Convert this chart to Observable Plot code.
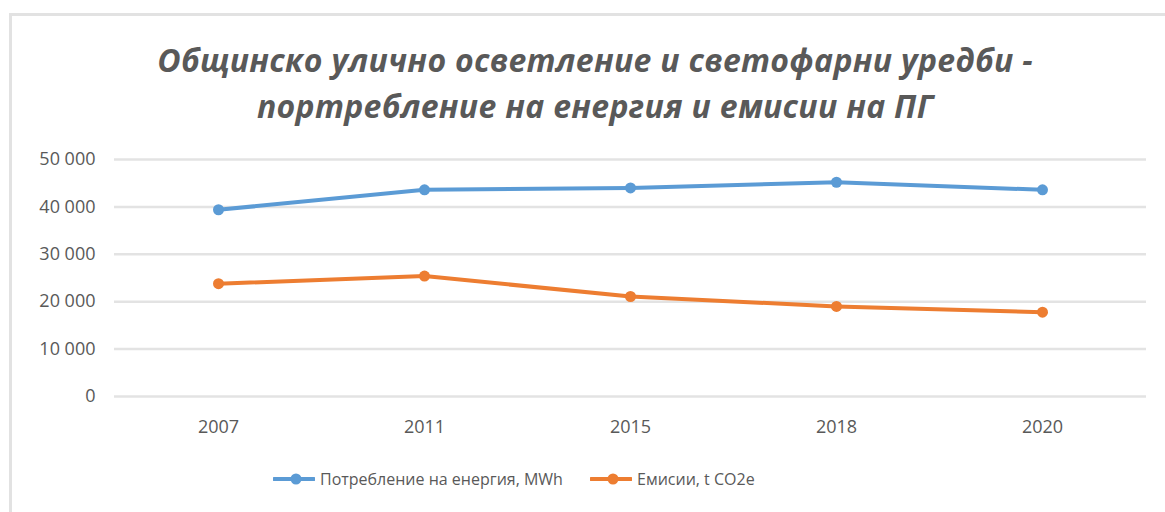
<!DOCTYPE html>
<html>
<head>
<meta charset="utf-8">
<script src="https://cdn.jsdelivr.net/npm/d3@7"></script>
<script src="https://cdn.jsdelivr.net/npm/@observablehq/plot@0.6"></script>
<style>
  html, body { margin: 0; padding: 0; background: #fff; }
  body { width: 1165px; height: 512px; position: relative; overflow: hidden; font-family: "Open Sans", sans-serif; }
  #frame { position: absolute; left: 9px; top: 13px; width: 1200px; height: 600px; border-left: 3px solid #e2e2e2; border-top: 3px solid #e2e2e2; }
  #title { position: absolute; left: 0; top: 37px; width: 1190px; text-align: center; font-family: "Open Sans", sans-serif; font-weight: 700; font-style: italic; font-size: 32px; letter-spacing: 0.3px; line-height: 46px; color: #595959; }
  #chart { position: absolute; left: 0; top: 130px; }
  #legend { position: absolute; left: 0; top: 464px; width: 1165px; height: 30px; font-size: 16px; color: #595959; }
  .item { position: absolute; top: 0; display: flex; align-items: center; height: 30px; white-space: nowrap; }
  .item svg { margin-right: 5px; }
</style>
</head>
<body>
<div id="frame"></div>
<div id="title">Общинско улично осветление и светофарни уредби -<br>портребление на енергия и емисии на ПГ</div>
<div id="chart"></div>
<div id="legend"></div>
<script>
const years = ["2007", "2011", "2015", "2018", "2020"];
const energy = [39400, 43600, 44000, 45200, 43600];
const emissions = [23800, 25400, 21100, 19000, 17800];
const seriesNames = ["Потребление на енергия, MWh", "Емисии, t CO2e"];
const seriesColors = ["#5B9BD5", "#ED7D31"];
const yTicks = [0, 10000, 20000, 30000, 40000, 50000];
const yTickLabels = ["0", "10 000", "20 000", "30 000", "40 000", "50 000"];

const data = [];
years.forEach((yr, i) => {
  data.push({year: yr, value: energy[i], series: seriesNames[0]});
  data.push({year: yr, value: emissions[i], series: seriesNames[1]});
});

const chart = Plot.plot({
  width: 1165,
  height: 325,
  marginTop: 29,
  marginBottom: 59,
  marginLeft: 114,
  marginRight: 19,
  style: {fontFamily: "Open Sans, sans-serif", fontSize: "18px", color: "#595959", background: "transparent"},
  x: {type: "point", domain: years, padding: 0.5, label: null},
  y: {domain: [0, 50000], label: null},
  color: {domain: seriesNames, range: seriesColors},
  marks: [
    Plot.gridY(yTicks, {stroke: "#e3e3e3", strokeWidth: 2.5, strokeOpacity: 1}),
    Plot.axisY(yTicks, {tickSize: 0, tickPadding: 19, label: null, tickFormat: d => yTickLabels[yTicks.indexOf(d)], fill: "#595959"}),
    Plot.axisX(years, {tickSize: 0, tickPadding: 24, label: null, fill: "#595959"}),
    Plot.line(data, {x: "year", y: "value", z: "series", stroke: "series", strokeWidth: 4, strokeLinejoin: "round", strokeLinecap: "round"}),
    Plot.dot(data, {x: "year", y: "value", fill: "series", r: 5.5, stroke: "none"})
  ]
});
document.getElementById("chart").appendChild(chart);

const legend = document.getElementById("legend");
const legendLeft = [273, 590];
seriesNames.forEach((name, i) => {
  const item = document.createElement("div");
  item.className = "item";
  item.style.left = legendLeft[i] + "px";
  item.innerHTML = `<svg width="42" height="14"><line x1="1" y1="7" x2="41" y2="7" stroke="${seriesColors[i]}" stroke-width="4" stroke-linecap="round"/><circle cx="23" cy="7" r="5.5" fill="${seriesColors[i]}"/></svg><span>${name}</span>`;
  legend.appendChild(item);
});
</script>
</body>
</html>
